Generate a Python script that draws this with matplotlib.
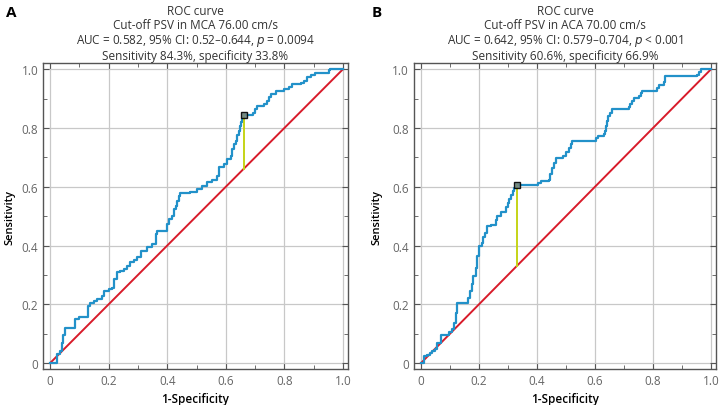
import numpy as np
import matplotlib.pyplot as plt
from matplotlib.ticker import MultipleLocator, FuncFormatter

plt.rcParams['font.family'] = ['Open Sans', 'DejaVu Sans']

# panel A: PSV in MCA
fpr_a = [0, 0.023, 0.035, 0.042, 0.045, 0.051, 0.086, 0.1, 0.128, 0.137, 0.15, 0.16,
         0.177, 0.183, 0.2, 0.211, 0.217, 0.229, 0.24, 0.251, 0.263, 0.274, 0.286,
         0.297, 0.309, 0.331, 0.349, 0.36, 0.366, 0.4, 0.406, 0.417, 0.422, 0.429,
         0.433, 0.439, 0.445, 0.479, 0.502, 0.519, 0.536, 0.553, 0.57, 0.576, 0.593,
         0.604, 0.616, 0.621, 0.627, 0.633, 0.638, 0.644, 0.648, 0.652, 0.656, 0.662,
         0.693, 0.7, 0.707, 0.73, 0.741, 0.747, 0.753, 0.77, 0.798, 0.815, 0.827,
         0.855, 0.867, 0.878, 0.89, 0.906, 0.952, 0.955, 1.0]
tpr_a = [0, 0.03, 0.04, 0.07, 0.097, 0.12, 0.149, 0.157, 0.194, 0.206, 0.212, 0.217,
         0.229, 0.246, 0.251, 0.257, 0.286, 0.309, 0.315, 0.32, 0.332, 0.343, 0.352,
         0.36, 0.383, 0.394, 0.406, 0.44, 0.449, 0.474, 0.49, 0.501, 0.524, 0.536,
         0.552, 0.57, 0.578, 0.583, 0.592, 0.604, 0.615, 0.624, 0.637, 0.666, 0.677,
         0.694, 0.706, 0.728, 0.745, 0.757, 0.775, 0.79, 0.805, 0.819, 0.83, 0.843,
         0.852, 0.865, 0.875, 0.881, 0.892, 0.905, 0.915, 0.926, 0.932, 0.938, 0.949,
         0.952, 0.96, 0.972, 0.98, 0.986, 0.998, 1.0, 1.0]

# panel B: PSV in ACA
fpr_b = [0, 0.009, 0.02, 0.03, 0.038, 0.049, 0.055, 0.069, 0.098, 0.106, 0.114, 0.12,
         0.123, 0.163, 0.169, 0.175, 0.181, 0.19, 0.194, 0.201, 0.209, 0.214, 0.222,
         0.229, 0.243, 0.26, 0.262, 0.277, 0.294, 0.3, 0.305, 0.311, 0.317, 0.322,
         0.331, 0.403, 0.414, 0.44, 0.445, 0.452, 0.457, 0.466, 0.489, 0.5, 0.511,
         0.516, 0.521, 0.603, 0.611, 0.63, 0.634, 0.637, 0.642, 0.646, 0.652, 0.66,
         0.717, 0.722, 0.728, 0.734, 0.751, 0.757, 0.763, 0.814, 0.82, 0.837, 0.84,
         0.842, 0.951, 0.957, 0.966, 1.0]
tpr_b = [0, 0.023, 0.028, 0.035, 0.042, 0.047, 0.068, 0.095, 0.105, 0.115, 0.138, 0.17,
         0.206, 0.223, 0.245, 0.268, 0.296, 0.324, 0.364, 0.398, 0.41, 0.428, 0.443,
         0.468, 0.471, 0.488, 0.502, 0.513, 0.53, 0.545, 0.558, 0.572, 0.586, 0.595,
         0.606, 0.611, 0.619, 0.623, 0.642, 0.665, 0.682, 0.699, 0.705, 0.718, 0.733,
         0.745, 0.756, 0.765, 0.773, 0.778, 0.79, 0.807, 0.825, 0.841, 0.852, 0.864,
         0.872, 0.881, 0.892, 0.903, 0.909, 0.918, 0.926, 0.935, 0.945, 0.955, 0.965,
         0.977, 0.98, 0.991, 1.0, 1.0]

labels = ['A', 'B']
titles = [
    'ROC curve\nCut-off PSV in MCA 76.00 cm/s\n'
    'AUC = 0.582, 95% CI: 0.52–0.644, $\\it{p}$ = 0.0094\n'
    'Sensitivity 84.3%, specificity 33.8%',
    'ROC curve\nCut-off PSV in ACA 70.00 cm/s\n'
    'AUC = 0.642, 95% CI: 0.579–0.704, $\\it{p}$ < 0.001\n'
    'Sensitivity 60.6%, specificity 66.9%',
]
cut_x = [0.662, 0.331]
cut_y = [0.843, 0.606]

fig = plt.figure(figsize=(7.22, 4.06), dpi=100)
axes = [fig.add_axes([0.0596, 0.0887, 0.4224, 0.753]),
        fig.add_axes([0.5734, 0.0887, 0.4183, 0.753])]
ylab_x = [-0.092, -0.104]

curves = [(fpr_a, tpr_a), (fpr_b, tpr_b)]
for i, ax in enumerate(axes):
    fx, fy = curves[i]
    ax.set_xlim(-0.024, 1.017)
    ax.set_ylim(-0.02, 1.02)
    ax.xaxis.set_major_locator(MultipleLocator(0.2))
    ax.yaxis.set_major_locator(MultipleLocator(0.2))
    ax.xaxis.set_minor_locator(MultipleLocator(0.1))
    ax.yaxis.set_minor_locator(MultipleLocator(0.1))
    fmt = FuncFormatter(lambda v, p: '0' if abs(v) < 1e-9 else f'{v:.1f}')
    ax.xaxis.set_major_formatter(fmt)
    ax.yaxis.set_major_formatter(fmt)
    ax.grid(True, which='major', color='#c8c8c8', lw=0.9)
    ax.set_axisbelow(True)
    ax.tick_params(which='both', direction='in', top=True, right=True,
                   color='#555555', labelcolor='#666666', labelsize=8.5)
    ax.tick_params(which='major', length=4)
    ax.tick_params(which='minor', length=3)
    for s in ax.spines.values():
        s.set_color('#555555')
        s.set_linewidth(1.0)

    ax.plot([0, 1], [0, 1], color='#d81b2a', lw=1.4, zorder=3)
    ax.step(fx, fy, where='post', color='#2291c9', lw=1.6, zorder=4)
    ax.plot([cut_x[i], cut_x[i]], [cut_x[i], cut_y[i]], color='#c5d417', lw=1.4, zorder=5)
    ax.plot(cut_x[i], cut_y[i], marker='s', ms=5, mfc='#6f8585', mec='black',
            mew=1.0, alpha=0.9, zorder=6)

    ax.set_xlabel('1-Specificity', fontsize=8.5, fontweight='semibold', labelpad=4)
    ax.set_ylabel('Sensitivity', fontsize=8, fontweight='semibold')
    ax.yaxis.set_label_coords(ylab_x[i], 0.5)
    ax.set_title(titles[i], fontsize=8.5, color='#333333', linespacing=1.1, pad=3)

fig.text(0.008, 0.958, labels[0], fontsize=11, fontweight='bold')
fig.text(0.515, 0.958, labels[1], fontsize=11, fontweight='bold')

fig.savefig('out.png', dpi=100)
